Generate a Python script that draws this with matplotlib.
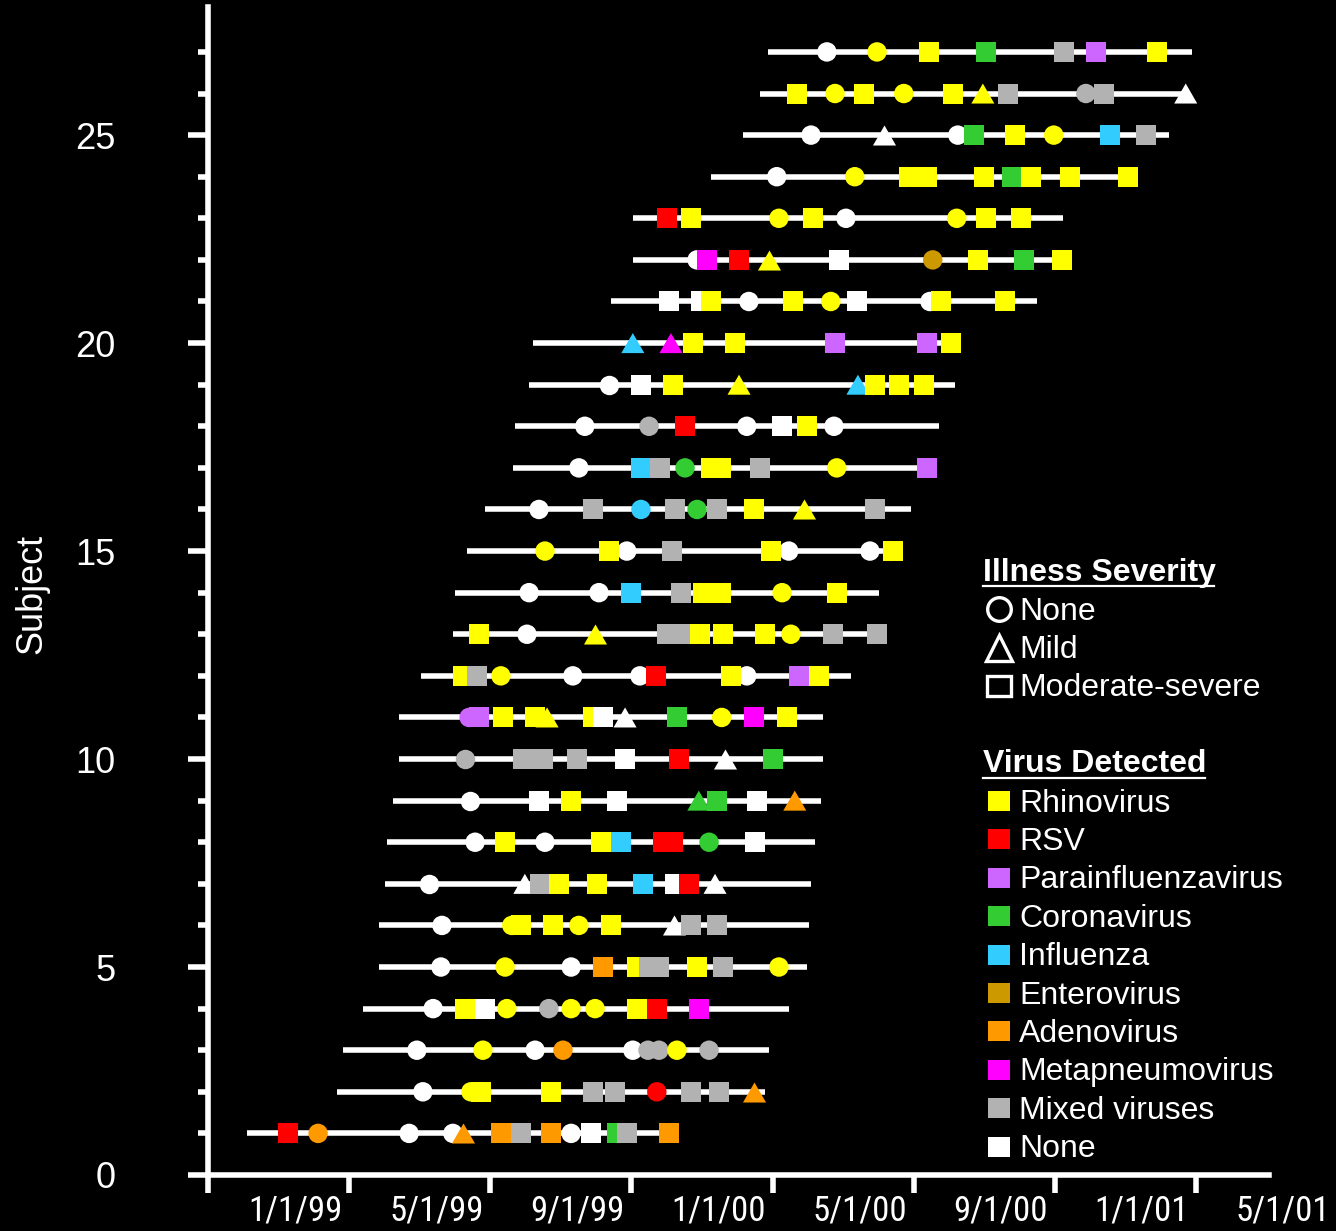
import matplotlib
matplotlib.use('Agg')
import matplotlib.pyplot as plt
import matplotlib.transforms as mtransforms
from matplotlib import font_manager as fm
from matplotlib.patches import Rectangle

plt.rcParams['font.family'] = ['Liberation Sans', 'DejaVu Sans']

# ---------------- data (x in months from start of study) ----------------
tick_labels = ['1/1/99', '5/1/99', '9/1/99', '1/1/00', '5/1/00', '9/1/00', '1/1/01', '5/1/01']

line_start = [1.11, 3.66, 3.83, 4.39, 4.85, 4.85, 5.02, 5.07, 5.24, 5.41, 5.41, 6.04, 6.94, 7.00,
              7.34, 7.85, 8.64, 8.70, 9.10, 9.21, 11.42, 12.04, 12.04, 14.25, 15.16, 15.64, 15.87]
line_end = [12.90, 15.78, 15.90, 16.46, 16.97, 17.03, 17.09, 17.20, 17.37, 17.43, 17.43, 18.22, 18.90, 19.01,
            19.41, 19.92, 20.45, 20.71, 21.17, 21.25, 23.49, 24.20, 24.23, 26.07, 27.23, 27.71, 27.88]

# visits: (month, severity, virus)  severity: N=none, M=mild, S=moderate-severe
s01 = [(2.27, 'S', 'RSV'), (3.12, 'N', 'AdV'), (5.70, 'N', 'Neg'), (6.94, 'N', 'Neg'), (7.23, 'M', 'AdV'),
       (8.30, 'S', 'AdV'), (8.87, 'S', 'Mix'), (9.72, 'S', 'AdV'), (10.29, 'N', 'Neg'), (10.85, 'S', 'Neg'),
       (11.59, 'S', 'CoV'), (11.87, 'S', 'Mix'), (13.06, 'S', 'AdV')]
s02 = [(6.09, 'N', 'Neg'), (7.45, 'N', 'RV'), (7.74, 'S', 'RV'), (9.72, 'S', 'RV'), (10.91, 'S', 'Mix'),
       (11.53, 'S', 'Mix'), (12.72, 'N', 'RSV'), (13.69, 'S', 'Mix'), (14.48, 'S', 'Mix'), (15.47, 'M', 'AdV')]
s03 = [(5.92, 'N', 'Neg'), (7.79, 'N', 'RV'), (9.27, 'N', 'Neg'), (10.06, 'N', 'AdV'), (12.04, 'N', 'Neg'),
       (12.47, 'N', 'Mix'), (12.78, 'N', 'Mix'), (13.29, 'N', 'RV'), (14.20, 'N', 'Mix')]
s04 = [(6.38, 'N', 'Neg'), (7.28, 'S', 'RV'), (7.85, 'S', 'Neg'), (8.47, 'N', 'RV'), (9.66, 'N', 'Mix'),
       (10.29, 'N', 'RV'), (10.97, 'N', 'RV'), (12.16, 'S', 'RV'), (12.72, 'S', 'RSV'), (13.91, 'S', 'MPV')]
s05 = [(6.60, 'N', 'Neg'), (8.42, 'N', 'RV'), (10.29, 'N', 'Neg'), (11.19, 'S', 'AdV'), (12.16, 'S', 'RV'),
       (12.50, 'S', 'Mix'), (12.78, 'S', 'Mix'), (13.86, 'S', 'RV'), (14.59, 'S', 'Mix'), (16.18, 'N', 'RV')]
s06 = [(6.63, 'N', 'Neg'), (8.61, 'N', 'RV'), (8.87, 'S', 'RV'), (9.78, 'S', 'RV'), (10.51, 'N', 'RV'),
       (11.42, 'S', 'RV'), (13.20, 'M', 'Neg'), (13.69, 'S', 'Mix'), (14.42, 'S', 'Mix')]
s07 = [(6.26, 'N', 'Neg'), (8.98, 'M', 'Neg'), (9.41, 'S', 'Mix'), (9.95, 'S', 'RV'), (11.02, 'S', 'RV'),
       (12.33, 'S', 'Flu'), (13.23, 'S', 'Neg'), (13.63, 'S', 'RSV'), (14.37, 'M', 'Neg')]
s08 = [(7.57, 'N', 'Neg'), (8.42, 'S', 'RV'), (9.55, 'N', 'Neg'), (11.14, 'S', 'RV'), (11.70, 'S', 'Flu'),
       (12.89, 'S', 'RSV'), (13.18, 'S', 'RSV'), (14.20, 'N', 'CoV'), (15.50, 'S', 'Neg')]
s09 = [(7.42, 'N', 'Neg'), (9.38, 'S', 'Neg'), (10.29, 'S', 'RV'), (11.59, 'S', 'Neg'), (13.91, 'M', 'CoV'),
       (14.42, 'S', 'CoV'), (15.56, 'S', 'Neg'), (16.63, 'M', 'AdV')]
s10 = [(7.28, 'N', 'Mix'), (8.93, 'S', 'Mix'), (9.49, 'S', 'Mix'), (10.46, 'S', 'Mix'), (11.82, 'S', 'Neg'),
       (13.35, 'S', 'RSV'), (14.65, 'M', 'Neg'), (16.01, 'S', 'CoV')]
s11 = [(7.40, 'N', 'PIV'), (7.68, 'S', 'PIV'), (8.36, 'S', 'RV'), (9.27, 'S', 'RV'), (9.61, 'M', 'RV'),
       (10.91, 'S', 'RV'), (11.19, 'S', 'Neg'), (11.82, 'M', 'Neg'), (13.29, 'S', 'CoV'), (14.56, 'N', 'RV'),
       (15.47, 'S', 'MPV'), (16.41, 'S', 'RV')]
s12 = [(7.23, 'S', 'RV'), (7.62, 'S', 'Mix'), (8.30, 'N', 'RV'), (10.34, 'N', 'Neg'), (12.24, 'N', 'Neg'),
       (12.69, 'S', 'RSV'), (14.82, 'S', 'RV'), (15.27, 'N', 'Neg'), (16.75, 'S', 'PIV'), (17.31, 'S', 'RV')]
s13 = [(7.68, 'S', 'RV'), (9.04, 'N', 'Neg'), (10.97, 'M', 'RV'), (13.01, 'S', 'Mix'), (13.40, 'S', 'Mix'),
       (13.94, 'S', 'RV'), (14.59, 'S', 'RV'), (15.78, 'S', 'RV'), (16.52, 'N', 'RV'), (17.71, 'S', 'Mix'),
       (18.96, 'S', 'Mix')]
s14 = [(9.10, 'N', 'Neg'), (11.08, 'N', 'Neg'), (11.99, 'S', 'Flu'), (13.40, 'S', 'Mix'), (14.03, 'S', 'RV'),
       (14.54, 'S', 'RV'), (16.27, 'N', 'RV'), (17.82, 'S', 'RV')]
s15 = [(9.55, 'N', 'RV'), (11.36, 'S', 'RV'), (11.87, 'N', 'Neg'), (13.15, 'S', 'Mix'), (15.95, 'S', 'RV'),
       (16.46, 'N', 'Neg'), (18.76, 'N', 'Neg'), (19.41, 'S', 'RV')]
s16 = [(9.38, 'N', 'Neg'), (10.91, 'S', 'Mix'), (12.27, 'N', 'Flu'), (13.23, 'S', 'Mix'), (13.86, 'N', 'CoV'),
       (14.42, 'S', 'Mix'), (15.47, 'S', 'RV'), (16.89, 'M', 'RV'), (18.90, 'S', 'Mix')]
s17 = [(10.51, 'N', 'Neg'), (12.27, 'S', 'Flu'), (12.81, 'S', 'Mix'), (13.52, 'N', 'CoV'), (14.25, 'S', 'RV'),
       (14.54, 'S', 'RV'), (15.64, 'S', 'Mix'), (17.82, 'N', 'RV'), (20.37, 'S', 'PIV')]
s18 = [(10.68, 'N', 'Neg'), (12.50, 'N', 'Mix'), (13.52, 'S', 'RSV'), (15.27, 'N', 'Neg'), (16.27, 'S', 'Neg'),
       (16.97, 'S', 'RV'), (17.74, 'N', 'Neg')]
s19 = [(11.36, 'N', 'Neg'), (12.27, 'S', 'Neg'), (13.18, 'S', 'RV'), (15.05, 'M', 'RV'), (18.42, 'M', 'Flu'),
       (18.90, 'S', 'RV'), (19.58, 'S', 'RV'), (20.29, 'S', 'RV')]
s20 = [(12.04, 'M', 'Flu'), (13.12, 'M', 'MPV'), (13.74, 'S', 'RV'), (14.93, 'S', 'RV'), (17.77, 'S', 'PIV'),
       (20.37, 'S', 'PIV'), (21.05, 'S', 'RV')]
s21 = [(13.06, 'S', 'Neg'), (13.97, 'S', 'Neg'), (14.25, 'S', 'RV'), (15.33, 'N', 'Neg'), (16.58, 'S', 'RV'),
       (17.65, 'N', 'RV'), (18.39, 'S', 'Neg'), (20.46, 'N', 'Neg'), (20.77, 'S', 'RV'), (22.58, 'S', 'RV')]
s22 = [(13.86, 'N', 'Neg'), (14.14, 'S', 'MPV'), (15.05, 'S', 'RSV'), (15.90, 'M', 'RV'), (17.88, 'S', 'Neg'),
       (20.54, 'N', 'EV'), (21.82, 'S', 'RV'), (23.12, 'S', 'CoV'), (24.20, 'S', 'RV')]
s23 = [(13.01, 'S', 'RSV'), (13.69, 'S', 'RV'), (16.18, 'N', 'RV'), (17.14, 'S', 'RV'), (18.08, 'N', 'Neg'),
       (21.22, 'N', 'RV'), (22.05, 'S', 'RV'), (23.04, 'S', 'RV')]
s24 = [(16.12, 'N', 'Neg'), (18.33, 'N', 'RV'), (19.86, 'S', 'RV'), (20.37, 'S', 'RV'), (21.99, 'S', 'RV'),
       (22.78, 'S', 'CoV'), (23.32, 'S', 'RV'), (24.43, 'S', 'RV'), (26.07, 'S', 'RV')]
s25 = [(17.09, 'N', 'Neg'), (19.16, 'M', 'Neg'), (21.25, 'N', 'Neg'), (21.71, 'S', 'CoV'), (22.87, 'S', 'RV'),
       (23.97, 'N', 'RV'), (25.56, 'S', 'Flu'), (26.58, 'S', 'Mix')]
s26 = [(16.69, 'S', 'RV'), (17.77, 'N', 'RV'), (18.59, 'S', 'RV'), (19.72, 'N', 'RV'), (21.11, 'S', 'RV'),
       (21.96, 'M', 'RV'), (22.67, 'S', 'Mix'), (24.88, 'N', 'Mix'), (25.39, 'S', 'Mix'), (27.71, 'M', 'Neg')]
s27 = [(17.54, 'N', 'Neg'), (18.96, 'N', 'RV'), (20.43, 'S', 'RV'), (22.05, 'S', 'CoV'), (24.26, 'S', 'Mix'),
       (25.16, 'S', 'PIV'), (26.89, 'S', 'RV')]

subjects = [s01, s02, s03, s04, s05, s06, s07, s08, s09, s10, s11, s12, s13, s14,
            s15, s16, s17, s18, s19, s20, s21, s22, s23, s24, s25, s26, s27]

virus_codes = ['RV', 'RSV', 'PIV', 'CoV', 'Flu', 'EV', 'AdV', 'MPV', 'Mix', 'Neg']
virus_names = ['Rhinovirus', 'RSV', 'Parainfluenzavirus', 'Coronavirus', 'Influenza', 'Enterovirus',
               'Adenovirus', 'Metapneumovirus', 'Mixed viruses', 'None']
virus_colors = ['#FFFF00', '#FF0000', '#CC66FF', '#33CC33', '#33CCFF', '#CC9900',
                '#FF9900', '#FF00FF', '#B2B2B2', '#FFFFFF']
severity_codes = ['N', 'M', 'S']
severity_names = ['None', 'Mild', 'Moderate-severe']


# ---------------- condensed font for date labels ----------------
def pick_narrow_font():
    prefs = ['liberation sans narrow', 'arial narrow', 'roboto condensed', 'dejavu sans condensed',
             'open sans condensed', 'noto sans condensed']
    cands = []
    for f in fm.fontManager.ttflist:
        nm = f.name.lower()
        fn = f.fname.lower()
        if f.weight not in (400, 'normal', 'regular') or f.style != 'normal':
            continue
        if 'bold' in fn or 'italic' in fn or 'oblique' in fn:
            continue
        narrowish = ('narrow' in nm or 'condensed' in nm or 'narrow' in fn or 'condensed' in fn
                     or str(f.stretch) in ('condensed', 'semi-condensed', '500'))
        if narrowish and 'semi' not in fn and 'extra' not in fn and 'ultra' not in fn:
            cands.append(f)
    for p in prefs:
        key = p.replace(' ', '')
        for f in cands:
            if p in f.name.lower() or key in f.fname.lower().replace('-', '').replace('_', ''):
                return fm.FontProperties(fname=f.fname)
    if cands:
        return fm.FontProperties(fname=cands[0].fname)
    return None


narrow_fp = pick_narrow_font()

# ---------------- styles ----------------
color_of = dict(zip(virus_codes, virus_colors))
tri = [(-1.15, -1.0), (1.15, -1.0), (0.0, 1.0), (-1.15, -1.0)]
marker_of = {'N': 'o', 'M': tri, 'S': 's'}
size_of = {'N': 14.0 ** 2, 'M': 16.6 ** 2, 'S': 14.4 ** 2}
z_of = {'N': 3, 'M': 4, 'S': 5}

W, H = 1336, 1231
fig = plt.figure(figsize=(W / 100, H / 100), dpi=100, facecolor='black')
ax = fig.add_axes([208 / W, 56 / H, (1269 - 208) / W, (1175 - 7) / H])
ax.set_facecolor('black')
ax.set_xlim(0, 30.07)
ax.set_ylim(0, 28.08)

for i, (a, b) in enumerate(zip(line_start, line_end)):
    ax.plot([a, b], [i + 1, i + 1], color='white', lw=4, solid_capstyle='butt', zorder=2)

for i, visits in enumerate(subjects):
    for sev in severity_codes:
        pts = [v for v in visits if v[1] == sev]
        if not pts:
            continue
        ax.scatter([p[0] for p in pts], [i + 1] * len(pts), marker=marker_of[sev], s=size_of[sev],
                   c=[color_of[p[2]] for p in pts], linewidths=0, zorder=z_of[sev])

for side in ['top', 'right']:
    ax.spines[side].set_visible(False)
for side in ['left', 'bottom']:
    ax.spines[side].set_color('white')
    ax.spines[side].set_linewidth(4)

ax.set_xticks(range(0, 29, 4))
ax.set_xticklabels([])
ax.tick_params(axis='x', length=13, width=4, color='white', direction='out')
ax.set_yticks(range(0, 26, 5))
ax.set_yticks([k for k in range(1, 28) if k % 5], minor=True)
ax.tick_params(axis='y', which='major', length=14.4, width=4, color='white', direction='out',
               labelcolor='white', labelsize=26, pad=52)
ax.tick_params(axis='y', which='minor', length=7.2, width=4, color='white', direction='out')

trans = mtransforms.blended_transform_factory(ax.transData, ax.transAxes)
for i, lab in enumerate(tick_labels):
    if narrow_fp is not None:
        fp = narrow_fp.copy()
        fp.set_size(25)
        ax.text(2.47 + 4 * i, -0.0308, lab, transform=trans, ha='center', va='center',
                fontproperties=fp, color='white', clip_on=False)
    else:
        ax.text(2.47 + 4 * i, -0.0308, lab, transform=trans, ha='center', va='center', fontsize=23.5,
                color='white', clip_on=False)

# ---------------- overlay (axis title, legend) ----------------
ov = fig.add_axes([0, 0, 1, 1], zorder=10)
ov.set_xlim(0, W)
ov.set_ylim(H, 0)
ov.axis('off')
ov.patch.set_alpha(0)

ov.text(32, 594, 'Subject', rotation=90, ha='center', va='center', fontsize=26, color='white')

# Illness severity
ov.text(983, 573, 'Illness Severity', ha='left', va='center', fontsize=23, fontweight='bold', color='white')
ov.plot([983, 1214], [586, 586], color='white', lw=1.6)
ov.plot([999], [609], marker='o', ms=17, mfc='none', mec='white', mew=2.4)
ov.plot([999], [648], marker='^', ms=19, mfc='none', mec='white', mew=2.4)
ov.add_patch(Rectangle((987, 676), 24, 20, fill=False, ec='white', lw=2.4))
for k, name in enumerate(severity_names):
    ov.text(1019, 611.5 + 38.5 * k, name, ha='left', va='center', fontsize=23, color='white')

# Virus detected
ov.text(983, 764, 'Virus Detected', ha='left', va='center', fontsize=23, fontweight='bold', color='white')
ov.plot([983, 1205], [777.5, 777.5], color='white', lw=1.6)
for k, (name, col) in enumerate(zip(virus_names, virus_colors)):
    yc = 801 + 38.4 * k
    ov.add_patch(Rectangle((988, yc - 10), 22, 20, color=col, lw=0))
    ov.text(1019, yc + 2.5, name, ha='left', va='center', fontsize=23, color='white')

fig.savefig('out.png', dpi=100, facecolor='black')
